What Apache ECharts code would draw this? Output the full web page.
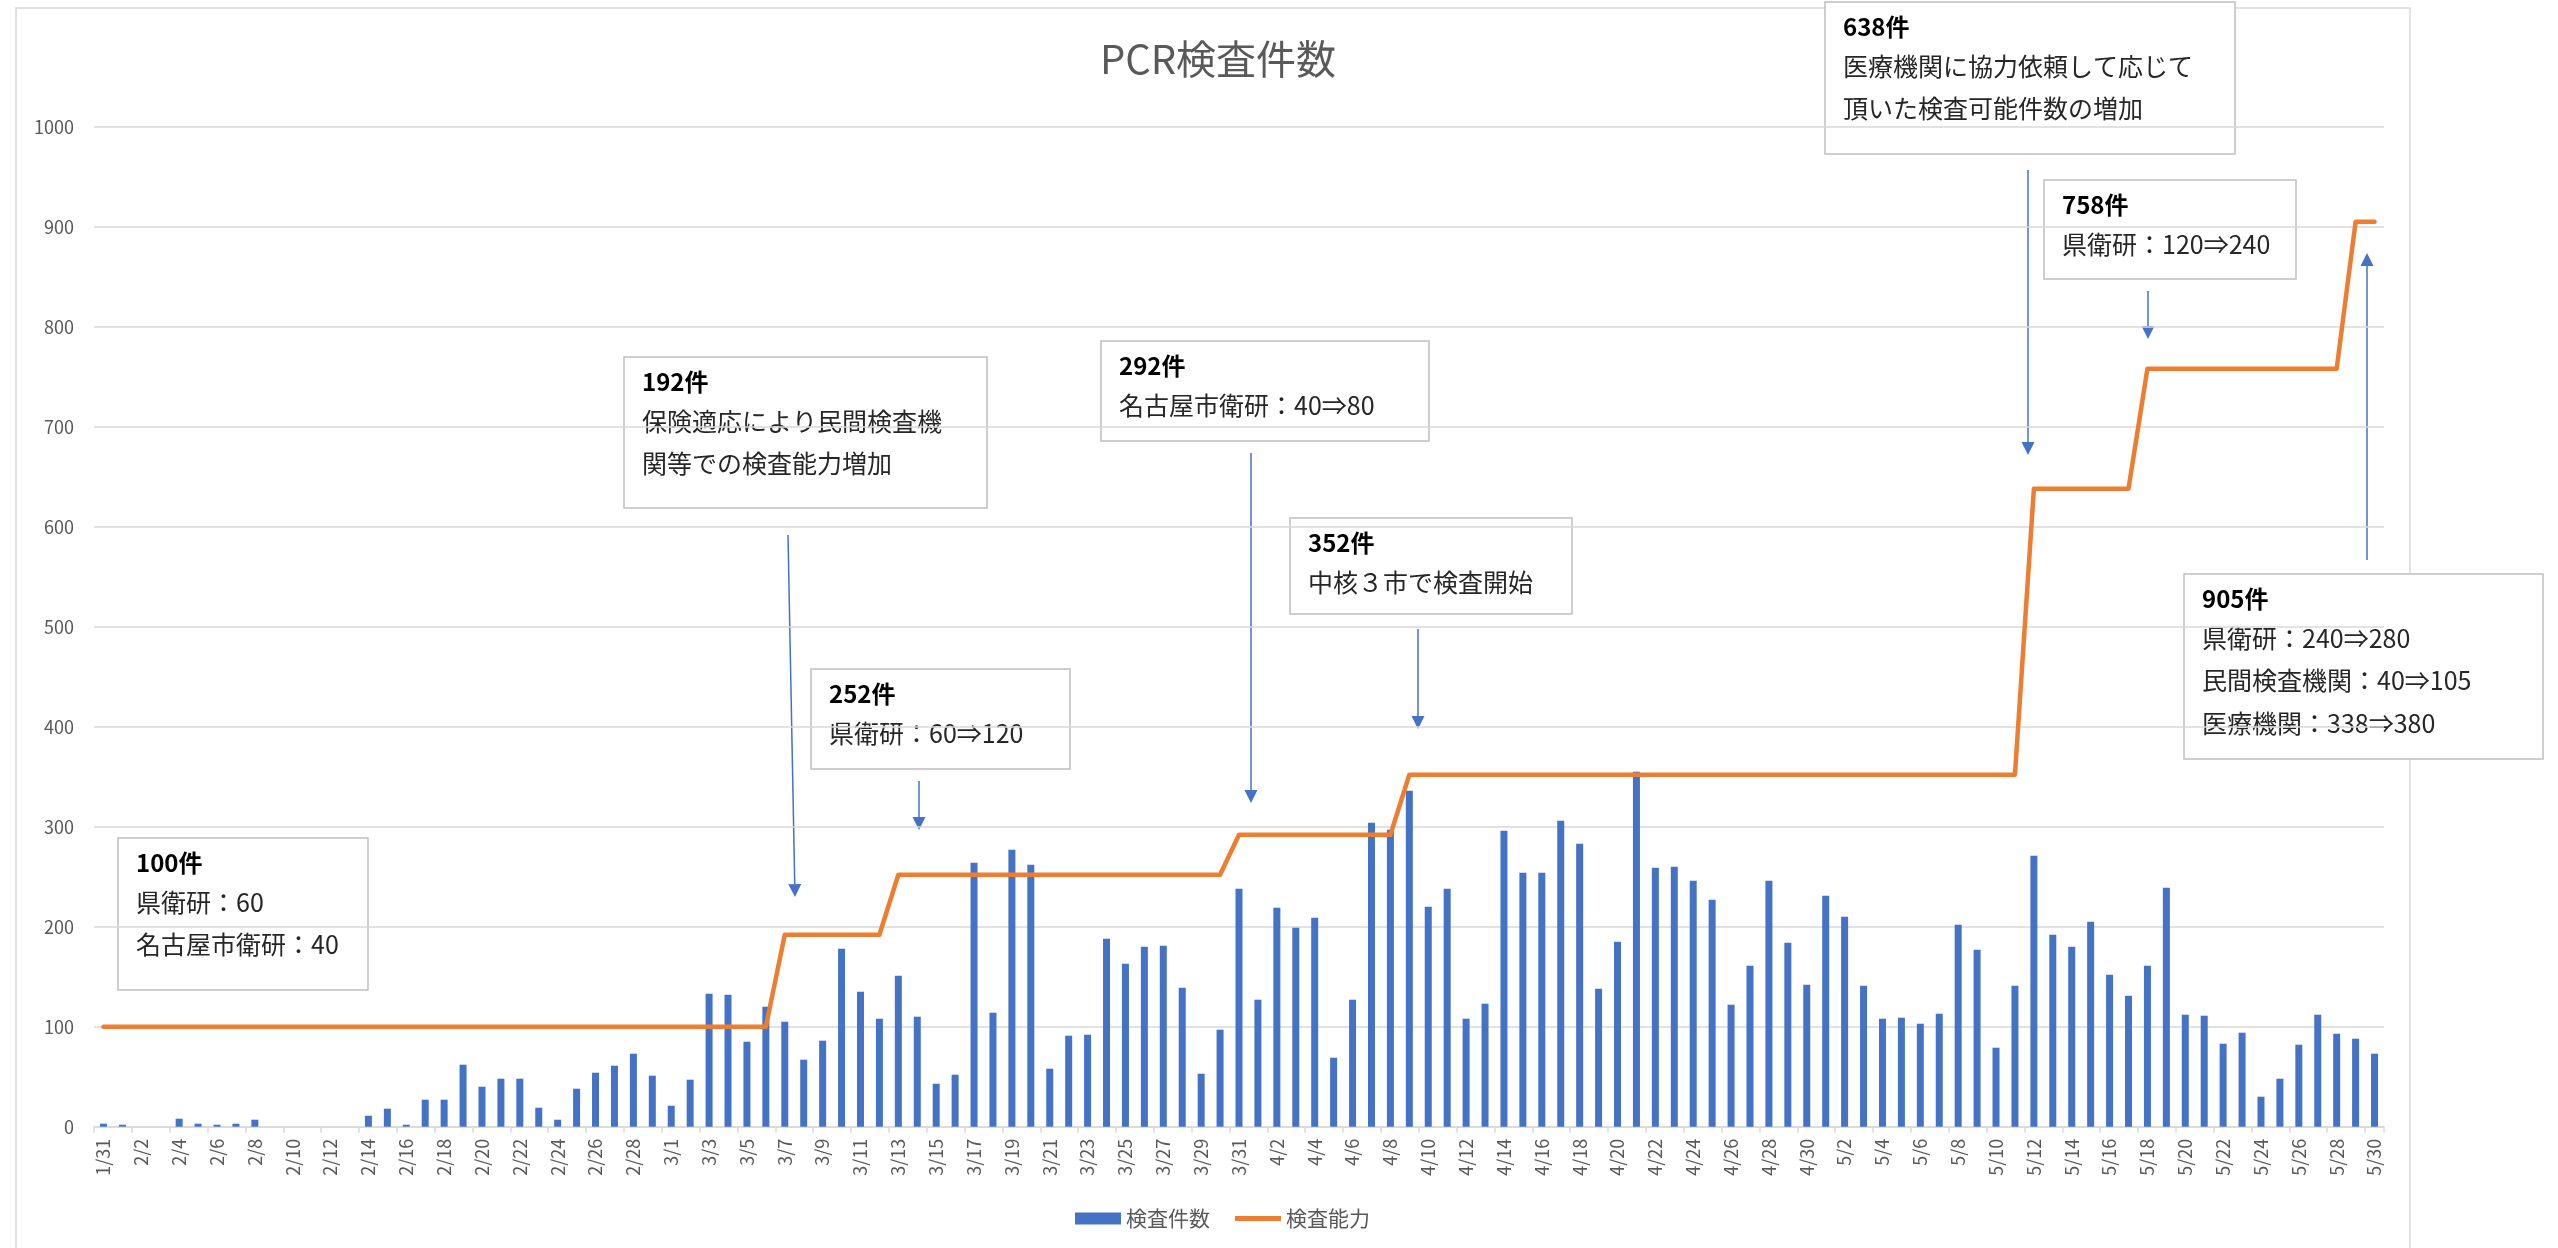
<!DOCTYPE html>
<html lang="ja">
<head>
<meta charset="utf-8">
<title>PCR検査件数</title>
<script src="https://cdn.jsdelivr.net/npm/echarts@6/dist/echarts.min.js"></script>
<style>
  html, body { margin: 0; padding: 0; background: #fff; }
  #chart { width: 2558px; height: 1248px; }
</style>
</head>
<body>
<div id="chart"></div>
<script>
// 日付（1/31〜5/30）
const dates = [
  "1/31",
  "2/1","2/2","2/3","2/4","2/5","2/6","2/7","2/8","2/9","2/10",
  "2/11","2/12","2/13","2/14","2/15","2/16","2/17","2/18","2/19","2/20",
  "2/21","2/22","2/23","2/24","2/25","2/26","2/27","2/28","2/29",
  "3/1","3/2","3/3","3/4","3/5","3/6","3/7","3/8","3/9","3/10",
  "3/11","3/12","3/13","3/14","3/15","3/16","3/17","3/18","3/19","3/20",
  "3/21","3/22","3/23","3/24","3/25","3/26","3/27","3/28","3/29","3/30","3/31",
  "4/1","4/2","4/3","4/4","4/5","4/6","4/7","4/8","4/9","4/10",
  "4/11","4/12","4/13","4/14","4/15","4/16","4/17","4/18","4/19","4/20",
  "4/21","4/22","4/23","4/24","4/25","4/26","4/27","4/28","4/29","4/30",
  "5/1","5/2","5/3","5/4","5/5","5/6","5/7","5/8","5/9","5/10",
  "5/11","5/12","5/13","5/14","5/15","5/16","5/17","5/18","5/19","5/20",
  "5/21","5/22","5/23","5/24","5/25","5/26","5/27","5/28","5/29","5/30"
];

// 検査件数（日別）
const testCounts = [
  3,
  2, 0, 0, 8, 3, 2, 3, 7, 0, 0,
  0, 0, 0, 11, 18, 2, 27, 27, 62, 40,
  48, 48, 19, 7, 38, 54, 61, 73, 51,
  21, 47, 133, 132, 85, 120, 105, 67, 86, 178,
  135, 108, 151, 110, 43, 52, 264, 114, 277, 262,
  58, 91, 92, 188, 163, 180, 181, 139, 53, 97, 238,
  127, 219, 199, 209, 69, 127, 304, 297, 336, 220,
  238, 108, 123, 296, 254, 254, 306, 283, 138, 185,
  355, 259, 260, 246, 227, 122, 161, 246, 184, 142,
  231, 210, 141, 108, 109, 103, 113, 202, 177, 79,
  141, 271, 192, 180, 205, 152, 131, 161, 239, 112,
  111, 83, 94, 30, 48, 82, 112, 93, 88, 73
];

// 検査能力（日別）
const capacity = [
  100,
  100, 100, 100, 100, 100, 100, 100, 100, 100, 100,
  100, 100, 100, 100, 100, 100, 100, 100, 100, 100,
  100, 100, 100, 100, 100, 100, 100, 100, 100,
  100, 100, 100, 100, 100, 100, 192, 192, 192, 192,
  192, 192, 252, 252, 252, 252, 252, 252, 252, 252,
  252, 252, 252, 252, 252, 252, 252, 252, 252, 252, 292,
  292, 292, 292, 292, 292, 292, 292, 292, 352, 352,
  352, 352, 352, 352, 352, 352, 352, 352, 352, 352,
  352, 352, 352, 352, 352, 352, 352, 352, 352, 352,
  352, 352, 352, 352, 352, 352, 352, 352, 352, 352,
  352, 638, 638, 638, 638, 638, 638, 758, 758, 758,
  758, 758, 758, 758, 758, 758, 758, 758, 905, 905
];

const yTicks = [0, 100, 200, 300, 400, 500, 600, 700, 800, 900, 1000];

// 注釈の文言
const noteHeads = ["100件", "192件", "252件", "292件", "352件", "638件", "758件", "905件"];
const noteLines = [
  ["県衛研：60", "名古屋市衛研：40"],
  ["保険適応により民間検査機", "関等での検査能力増加"],
  ["県衛研：60⇒120"],
  ["名古屋市衛研：40⇒80"],
  ["中核３市で検査開始"],
  ["医療機関に協力依頼して応じて", "頂いた検査可能件数の増加"],
  ["県衛研：120⇒240"],
  ["県衛研：240⇒280", "民間検査機関：40⇒105", "医療機関：338⇒380"]
];

// 注釈ボックスの配置 [x, y, w, h]
const noteBoxes = [
  [118, 838, 250, 152],
  [624, 357, 363, 151],
  [811, 669, 259, 100],
  [1101, 341, 328, 100],
  [1290, 518, 282, 96],
  [1825, 2, 410, 152],
  [2044, 180, 252, 99],
  [2184, 574, 359, 185]
];

// 矢印 [x1, y1, x2(先端), y2(先端)]
const arrows = [
  [788, 535, 795, 897],
  [919, 781, 919, 830],
  [1251, 453, 1251, 803],
  [1418, 629, 1418, 729],
  [2028, 170, 2028, 455],
  [2148, 291, 2148, 339],
  [2367, 560, 2367, 253]
];

const FONT = '"Noto Sans CJK JP", "Noto Sans", sans-serif';
const GRAY = "#595959";
const BLUE = "#4472C4";
const ORANGE = "#ED7D31";

function noteGraphics() {
  const out = [];
  noteBoxes.forEach(([x, y, w, h], i) => {
    const children = [
      {
        type: "rect",
        shape: { x: 0, y: 0, width: w, height: h },
        style: { fill: "#fff", stroke: "#bfbfbf", lineWidth: 1.5 },
      },
      {
        type: "text",
        x: 18,
        y: 25,
        style: {
          text: noteHeads[i],
          font: "bold 24px " + FONT,
          fill: "#000",
          verticalAlign: "middle",
        },
      },
    ];
    noteLines[i].forEach((line, k) => {
      children.push({
        type: "text",
        x: 18,
        y: 64 + k * 42.5,
        style: {
          text: line,
          font: "25px " + FONT,
          fill: "#262626",
          verticalAlign: "middle",
        },
      });
    });
    out.push({ type: "group", x, y, z: 100, children });
  });
  return out;
}

function arrowGraphics() {
  const head = 13;
  return arrows.map(([x1, y1, x2, y2]) => {
    const dx = x2 - x1, dy = y2 - y1;
    const len = Math.sqrt(dx * dx + dy * dy);
    const ux = dx / len, uy = dy / len;
    const bx = x2 - ux * head, by = y2 - uy * head;
    const px = -uy * head / 2, py = ux * head / 2;
    return {
      type: "group",
      z: 90,
      children: [
        {
          type: "line",
          shape: { x1, y1, x2: bx, y2: by },
          style: { stroke: BLUE, lineWidth: 1.5 },
        },
        {
          type: "polygon",
          shape: { points: [[x2, y2], [bx + px, by + py], [bx - px, by - py]] },
          style: { fill: BLUE },
        },
      ],
    };
  });
}

const chart = echarts.init(document.getElementById("chart"));
chart.setOption({
  animation: false,
  backgroundColor: "#fff",
  textStyle: { fontFamily: FONT },
  title: {
    text: "PCR検査件数",
    left: 1213,
    top: 34,
    textAlign: "center",
    textStyle: { color: GRAY, fontSize: 40, fontWeight: "normal", fontFamily: FONT },
  },
  legend: {
    left: 1070,
    top: 1203,
    itemWidth: 46,
    itemHeight: 12,
    itemGap: 25,
    textStyle: { color: GRAY, fontSize: 21, fontFamily: FONT },
    data: [
      { name: "検査件数", icon: "rect" },
      { name: "検査能力", icon: "path://M0,0 M0,3.5 L46,3.5 L46,8.5 L0,8.5 Z M46,12" },
    ],
  },
  grid: { left: 94, right: 174, top: 126.7, bottom: 121.3, containLabel: false },
  xAxis: {
    type: "category",
    data: dates,
    axisLine: { lineStyle: { color: "#d9d9d9", width: 1.5 } },
    axisTick: { show: true, interval: 1, length: 6, lineStyle: { color: "#d9d9d9", width: 1.5 } },
    axisLabel: { interval: 1, rotate: 90, color: GRAY, fontSize: 18, margin: 12, fontFamily: FONT },
  },
  yAxis: {
    type: "value",
    min: yTicks[0],
    max: yTicks[yTicks.length - 1],
    interval: 100,
    axisLine: { show: false },
    axisTick: { show: false },
    axisLabel: { color: GRAY, fontSize: 18, margin: 20, fontFamily: FONT, formatter: (v) => String(v) },
    splitLine: { lineStyle: { color: "#d9d9d9", width: 1.5 } },
  },
  series: [
    {
      name: "検査件数",
      type: "bar",
      data: testCounts,
      barWidth: 7,
      itemStyle: { color: BLUE },
    },
    {
      name: "検査能力",
      type: "line",
      data: capacity,
      symbol: "none",
      lineStyle: { color: ORANGE, width: 4.5, cap: "round", join: "round" },
      itemStyle: { color: ORANGE },
    },
  ],
  graphic: [
    {
      type: "rect",
      z: 0,
      shape: { x: 16, y: 8, width: 2394, height: 1270 },
      style: { fill: null, stroke: "#d9d9d9", lineWidth: 1.5 },
    },
    ...arrowGraphics(),
    ...noteGraphics(),
  ],
});
</script>
</body>
</html>
